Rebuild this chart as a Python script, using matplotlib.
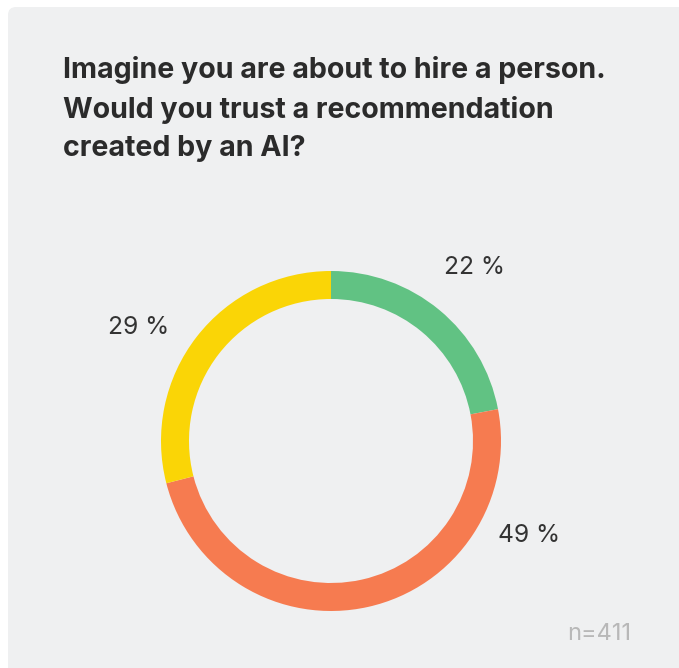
import matplotlib.pyplot as plt
from matplotlib.patches import FancyBboxPatch

plt.rcParams['font.family'] = ['Inter', 'DejaVu Sans']

title = "Imagine you are about to hire a person.\nWould you trust a recommendation\ncreated by an AI?"
answers = ['Yes', 'No', "Don't know"]
shares = [22, 49, 29]
colors = ['#61c283', '#f67b50', '#fad506']
n_total = 411

W, H = 679, 668
fig = plt.figure(figsize=(W / 100, H / 100), dpi=100)
fig.patch.set_facecolor('white')

# grey card behind everything
card = FancyBboxPatch((8 / W, -0.05), 1.0, (H - 7) / H + 0.05,
                      boxstyle='round,pad=0,rounding_size=0.012',
                      transform=fig.transFigure, facecolor='#eff0f1',
                      edgecolor='none', zorder=-5)
fig.patches.append(card)

fig.text(63 / W, 1 - 56 / H, title, ha='left', va='top', fontsize=20.6,
         fontweight='bold', color='#2b2b2b', linespacing=1.53)

# donut
cx, cy, r = 331, 441, 170
ax = fig.add_axes([(cx - r) / W, (H - cy - r) / H, 2 * r / W, 2 * r / H],
                  zorder=2)
ax.set_facecolor('none')
ax.pie(shares, colors=colors, startangle=90, counterclock=False, radius=1,
       wedgeprops=dict(width=28 / r, linewidth=0))
ax.set_xlim(-1, 1)
ax.set_ylim(-1, 1)
ax.axis('off')

# percentage labels
label_pos = [(475, 268), (529, 535), (139, 327)]
for v, (px, py) in zip(shares, label_pos):
    fig.text(px / W, 1 - py / H, f'{v} %', ha='center', va='center',
             fontsize=17.7, color='#333333')

fig.text(631 / W, 1 - 634 / H, f'n={n_total}', ha='right', va='center',
         fontsize=17, color='#b8b8b8')

fig.savefig('out.png', dpi=100)
